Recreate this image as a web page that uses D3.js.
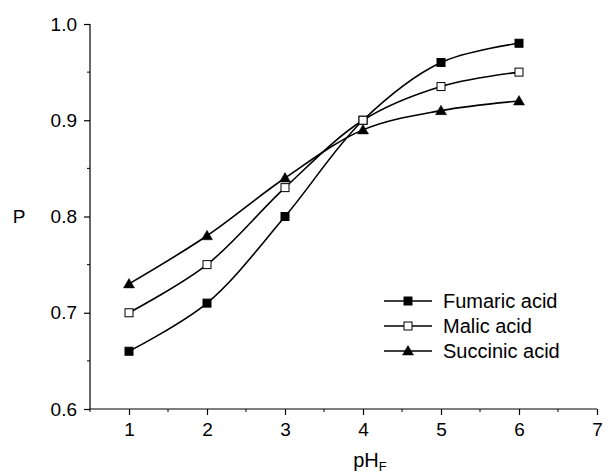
<!DOCTYPE html>
<html><head><meta charset="utf-8">
<script src="https://cdn.jsdelivr.net/npm/d3@7"></script>
<style>body{margin:0;background:#fff}svg{display:block}text{font-family:"Liberation Sans",Arial,sans-serif;fill:#000}</style>
</head><body><svg id="c" width="611" height="475"></svg>
<script>
const xValues = [1, 2, 3, 4, 5, 6];
const fumaric = [0.66, 0.71, 0.80, 0.90, 0.96, 0.98];
const malic = [0.70, 0.75, 0.83, 0.90, 0.935, 0.95];
const succinic = [0.73, 0.78, 0.84, 0.89, 0.91, 0.92];
const seriesNames = ["Fumaric acid", "Malic acid", "Succinic acid"];
const xTicks = [1, 2, 3, 4, 5, 6, 7];
const yTicks = [0.6, 0.7, 0.8, 0.9, 1.0];

const series = [
  {name: seriesNames[0], values: fumaric, marker: "sq", fill: "#000"},
  {name: seriesNames[1], values: malic, marker: "sq", fill: "#fff"},
  {name: seriesNames[2], values: succinic, marker: "tri", fill: "#000"}
];

const svg = d3.select("#c");
const x = d3.scaleLinear().domain([0.5, 7]).range([90, 597]);
const y = d3.scaleLinear().domain([0.6, 1.0]).range([409, 24]);
const fs = 19;

const xMinor = d3.range(0.5, 7.01, 0.5).filter(v => Math.abs(v - Math.round(v)) > 0.01);
const yMinor = [0.65, 0.75, 0.85, 0.95];

const gx = svg.append("g").attr("transform", "translate(0,409)")
  .call(d3.axisBottom(x).tickValues(xTicks).tickSize(6).tickPadding(8).tickFormat(d3.format("d")));
gx.append("g").selectAll("line").data(xMinor).join("line")
  .attr("x1", d => x(d)).attr("x2", d => x(d)).attr("y1", 0).attr("y2", 3).attr("stroke", "#000");
gx.select(".domain").attr("d", `M${x(0.5)},0H${x(7)}`);

const gy = svg.append("g").attr("transform", "translate(90,0)")
  .call(d3.axisLeft(y).tickValues(yTicks).tickSize(6).tickPadding(7).tickFormat(d3.format(".1f")));
gy.append("g").selectAll("line").data(yMinor).join("line")
  .attr("y1", d => y(d)).attr("y2", d => y(d)).attr("x1", 0).attr("x2", -3).attr("stroke", "#000");
gy.select(".domain").attr("d", `M0,${y(0.6)}V${y(1.0)}`);

svg.selectAll(".tick text").attr("font-size", fs).attr("font-family", "Liberation Sans, Arial, sans-serif");
svg.selectAll(".domain, .tick line").attr("stroke", "#000").attr("stroke-width", 1.2);

svg.append("text").attr("x", 19).attr("y", y(0.8)).attr("dy", "0.35em").attr("text-anchor", "middle")
  .attr("font-size", fs).text("P");
const xt = svg.append("text").attr("x", 370).attr("y", 467).attr("text-anchor", "middle").attr("font-size", 20);
xt.append("tspan").text("pH");
xt.append("tspan").attr("font-size", 13).attr("dy", 4).text("F");

const line = d3.line().x((d, i) => x(xValues[i])).y(d => y(d)).curve(d3.curveCatmullRom.alpha(0.5));

function marker(g, type, fill, cx, cy) {
  if (type === "sq") {
    g.append("rect").attr("x", cx - 4).attr("y", cy - 4).attr("width", 8).attr("height", 8)
      .attr("fill", fill).attr("stroke", "#000").attr("stroke-width", 1);
  } else {
    g.append("path").attr("d", `M${cx},${cy - 5.5}L${cx + 5.5},${cy + 4}L${cx - 5.5},${cy + 4}Z`)
      .attr("fill", fill).attr("stroke", "#000").attr("stroke-width", 0.5);
  }
}

series.forEach(s => {
  svg.append("path").datum(s.values).attr("d", line).attr("fill", "none")
    .attr("stroke", "#000").attr("stroke-width", 1.6);
});
series.forEach(s => {
  const g = svg.append("g");
  s.values.forEach((v, i) => marker(g, s.marker, s.fill, x(xValues[i]), y(v)));
});

const lg = svg.append("g");
series.forEach((s, i) => {
  const yy = 301 + i * 25;
  lg.append("line").attr("x1", 384).attr("x2", 432).attr("y1", yy).attr("y2", yy)
    .attr("stroke", "#000").attr("stroke-width", 1.6);
  marker(lg, s.marker, s.fill, 408, yy);
  lg.append("text").attr("x", 443).attr("y", yy).attr("dy", "0.35em").attr("font-size", 20).text(s.name);
});
</script></body></html>
